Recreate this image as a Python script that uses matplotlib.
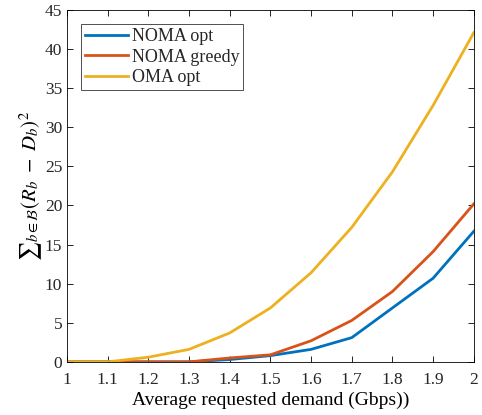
import numpy as np
from matplotlib import pyplot as plt

plt.rcParams['font.family'] = ['Liberation Serif', 'DejaVu Serif']
plt.rcParams['mathtext.fontset'] = 'stix'
plt.rcParams['text.color'] = '#262626'
plt.rcParams['xtick.labelcolor'] = '#262626'
plt.rcParams['ytick.labelcolor'] = '#262626'

# data
demand = [1.0, 1.1, 1.2, 1.3, 1.4, 1.5, 1.6, 1.7, 1.8, 1.9, 2.0]
noma_opt = [0, 0, 0, 0, 0.3, 0.8, 1.6, 3.1, 6.9, 10.7, 16.7]
noma_greedy = [0, 0, 0, 0, 0.5, 0.9, 2.7, 5.3, 9.0, 14.1, 20.2]
oma_opt = [0, 0, 0.6, 1.6, 3.7, 6.9, 11.4, 17.2, 24.3, 32.8, 42.1]

fig = plt.figure(figsize=(4.82, 4.15), dpi=100)
ax = fig.add_axes([0.139, 0.128, 0.844, 0.848])

ax.plot(demand, noma_opt, color="#0072BD", lw=2, label="NOMA opt")
ax.plot(demand, noma_greedy, color="#D95319", lw=2, label="NOMA greedy")
ax.plot(demand, oma_opt, color="#EDB120", lw=2, label="OMA opt")

ax.set_xlim(1, 2)
ax.set_ylim(0, 45)
ax.set_xticks(np.arange(1, 2.01, 0.1))
ax.set_xticklabels(["1", "1.1", "1.2", "1.3", "1.4", "1.5", "1.6", "1.7", "1.8", "1.9", "2"])
ax.set_yticks(range(0, 46, 5))
ax.tick_params(direction="in", top=True, right=True, labelsize=12.5, length=4, width=0.6)
ax.tick_params(axis="x", pad=7)
for s in ax.spines.values():
    s.set_linewidth(0.6)

ax.set_xlabel("Average requested demand (Gbps))", fontsize=14, labelpad=3)
ax.set_ylabel(r"$\sum{}_{b\in\mathcal{B}}(R_b\ -\ D_b)^2$", fontsize=15, labelpad=0)

leg = ax.legend(loc="upper left", fontsize=13, fancybox=False, framealpha=1,
                edgecolor="#333333", handlelength=2.4, handletextpad=0.2,
                borderpad=0.2, labelspacing=0.2, borderaxespad=0.8)
leg.get_frame().set_linewidth(0.6)

fig.savefig("out.png")
